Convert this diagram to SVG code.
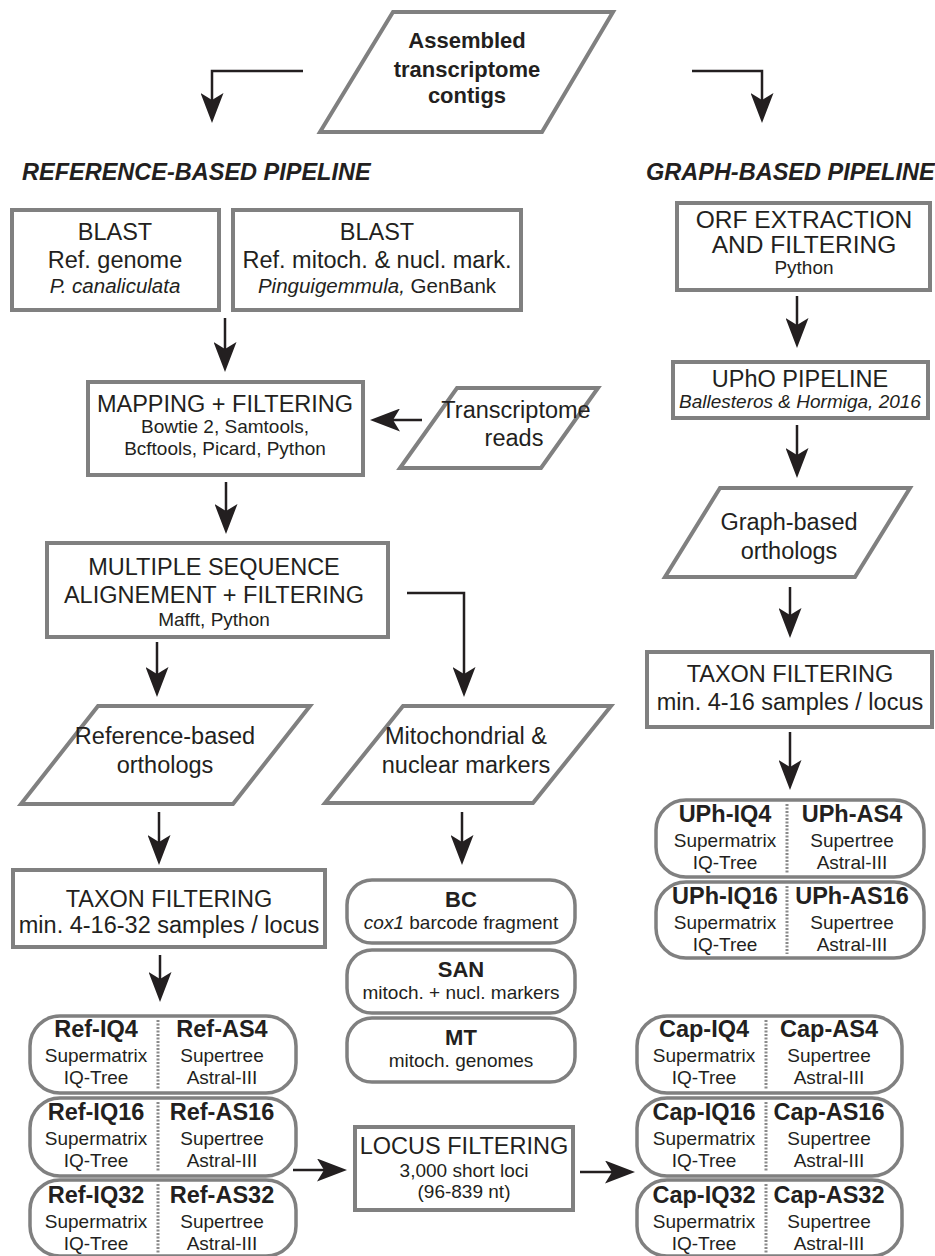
<svg xmlns="http://www.w3.org/2000/svg" width="935" height="1256" viewBox="0 0 935 1256">
<style>
.box{fill:#fff;stroke:#808080;stroke-width:4}
.rbox{fill:#fff;stroke:#808080;stroke-width:3.5}
.arrow{fill:none;stroke:#231f20;stroke-width:2.5;marker-end:url(#ah)}
.dv{stroke:#8a8a8a;stroke-width:3;stroke-dasharray:2 1.5}
text{font-family:"Liberation Sans",Arial,Helvetica,sans-serif;fill:#231f20;text-anchor:middle}
.h{font-size:23.5px}
.hl{font-size:24.5px}
.s{font-size:19px}
.m{font-size:20.5px}
.i{font-style:italic}
.b{font-weight:bold;font-size:23.5px}
.tb{font-weight:bold;font-size:22px}
.title{font-weight:bold;font-style:italic;font-size:23.5px;text-anchor:start}
</style>
<defs>
<marker id="ah" markerUnits="userSpaceOnUse" markerWidth="30" markerHeight="23" viewBox="0 0 30 23" refX="22" refY="11.5" orient="auto"><path d="M0,0 L30,11.5 L0,23 L7,11.5 Z" fill="#231f20"/></marker>
</defs>

<g id="connectors">
<path class="arrow" d="M303,71 H212 V115"/>
<path class="arrow" d="M692,71 H762 V115"/>
<path class="arrow" d="M225,318 V364"/>
<path class="arrow" d="M422,420 H378"/>
<path class="arrow" d="M226,482 V526"/>
<path class="arrow" d="M407,593 H464 V689"/>
<path class="arrow" d="M157,642 V689"/>
<path class="arrow" d="M159,812 V857"/>
<path class="arrow" d="M462,812 V857"/>
<path class="arrow" d="M160,955 V994"/>
<path class="arrow" d="M293,1170 H339"/>
<path class="arrow" d="M580,1172 H627"/>
<path class="arrow" d="M797,296 V340"/>
<path class="arrow" d="M797,425 V470"/>
<path class="arrow" d="M790,587 V630"/>
<path class="arrow" d="M790,732 V782"/>
</g>

<g id="contigs">
<polygon class="box" points="393,12 613,12 542,132 320,132"/>
<text class="tb" x="467" y="48">Assembled</text>
<text class="tb" x="467" y="77">transcriptome</text>
<text class="tb" x="467" y="103">contigs</text>
</g>

<g id="titles">
<text class="title" x="22" y="180">REFERENCE-BASED PIPELINE</text>
<text class="title" x="646" y="180">GRAPH-BASED PIPELINE</text>
</g>

<g id="blast-genome">
<rect class="box" x="12" y="210" width="207" height="100"/>
<text class="h" x="115" y="240">BLAST</text>
<text class="h" x="115" y="268">Ref. genome</text>
<text class="m i" x="115" y="293">P. canaliculata</text>
</g>

<g id="blast-markers">
<rect class="box" x="233" y="210" width="288" height="100"/>
<text class="h" x="377" y="240">BLAST</text>
<text class="h" x="377" y="268">Ref. mitoch. &amp; nucl. mark.</text>
<text class="m" x="377" y="293"><tspan class="i">Pinguigemmula,</tspan> GenBank</text>
</g>

<g id="orf">
<rect class="box" x="677" y="203" width="253" height="87"/>
<text class="hl" x="804" y="228">ORF EXTRACTION</text>
<text class="hl" x="804" y="253">AND FILTERING</text>
<text class="s" x="804" y="274">Python</text>
</g>

<g id="mapping">
<rect class="box" x="88" y="382" width="275" height="93"/>
<text class="h" x="225" y="412">MAPPING + FILTERING</text>
<text class="s" x="225" y="433">Bowtie 2, Samtools,</text>
<text class="s" x="225" y="455">Bcftools, Picard, Python</text>
</g>

<g id="reads">
<polygon class="box" points="457,388 598,388 541,468 400,468"/>
<text class="h" x="516" y="418">Transcriptome</text>
<text class="h" x="514" y="446">reads</text>
</g>

<g id="upho">
<rect class="box" x="673" y="362" width="255" height="56"/>
<text class="h" x="800" y="387">UPhO PIPELINE</text>
<text class="s i" x="800" y="408">Ballesteros &amp; Hormiga, 2016</text>
</g>

<g id="graph-orthologs">
<polygon class="box" points="720,488 910,488 855,577 665,577"/>
<text class="h" x="789" y="530">Graph-based</text>
<text class="h" x="789" y="559">orthologs</text>
</g>

<g id="msa">
<rect class="box" x="47" y="543" width="341" height="94"/>
<text class="h" x="214" y="575">MULTIPLE SEQUENCE</text>
<text class="h" x="214" y="603">ALIGNEMENT + FILTERING</text>
<text class="s" x="214" y="626">Mafft, Python</text>
</g>

<g id="taxon-graph">
<rect class="box" x="647" y="652" width="285" height="75"/>
<text class="h" x="790" y="682">TAXON FILTERING</text>
<text class="h" x="790" y="710">min. 4-16 samples / locus</text>
</g>

<g id="ref-orthologs">
<polygon class="box" points="98,706 310,706 233,804 21,804"/>
<text class="h" x="165" y="744">Reference-based</text>
<text class="h" x="165" y="773">orthologs</text>
</g>

<g id="mito-markers">
<polygon class="box" points="403,706 611,706 533,803 325,803"/>
<text class="h" x="466" y="744">Mitochondrial &amp;</text>
<text class="h" x="466" y="773">nuclear markers</text>
</g>

<g id="uph-4">
<rect class="rbox" x="656" y="800" width="268" height="77" rx="30" ry="30"/>
<line class="dv" x1="787" y1="804" x2="787" y2="873"/>
<text class="b" x="725" y="822">UPh-IQ4</text>
<text class="s" x="725" y="847">Supermatrix</text>
<text class="s" x="725" y="869">IQ-Tree</text>
<text class="b" x="852" y="822">UPh-AS4</text>
<text class="s" x="852" y="847">Supertree</text>
<text class="s" x="852" y="869">Astral-III</text>
</g>

<g id="uph-16">
<rect class="rbox" x="656" y="882" width="268" height="76" rx="30" ry="30"/>
<line class="dv" x1="787" y1="886" x2="787" y2="954"/>
<text class="b" x="725" y="904">UPh-IQ16</text>
<text class="s" x="725" y="929">Supermatrix</text>
<text class="s" x="725" y="951">IQ-Tree</text>
<text class="b" x="852" y="904">UPh-AS16</text>
<text class="s" x="852" y="929">Supertree</text>
<text class="s" x="852" y="951">Astral-III</text>
</g>

<g id="taxon-ref">
<rect class="box" x="13" y="870" width="312" height="77"/>
<text class="h" x="169" y="907">TAXON FILTERING</text>
<text class="h" x="169" y="933">min. 4-16-32 samples / locus</text>
</g>

<g id="bc">
<rect class="rbox" x="347" y="880" width="228" height="63" rx="25" ry="25"/>
<text class="tb" x="461" y="907">BC</text>
<text class="s" x="461" y="929"><tspan class="i">cox1</tspan> barcode fragment</text>
</g>

<g id="san">
<rect class="rbox" x="347" y="950" width="228" height="63" rx="25" ry="25"/>
<text class="tb" x="461" y="977">SAN</text>
<text class="s" x="461" y="999">mitoch. + nucl. markers</text>
</g>

<g id="mt">
<rect class="rbox" x="347" y="1018" width="228" height="64" rx="25" ry="25"/>
<text class="tb" x="461" y="1045">MT</text>
<text class="s" x="461" y="1067">mitoch. genomes</text>
</g>

<g id="ref-4">
<rect class="rbox" x="30" y="1016" width="266" height="77" rx="30" ry="30"/>
<line class="dv" x1="158" y1="1020" x2="158" y2="1089"/>
<text class="b" x="96" y="1037">Ref-IQ4</text>
<text class="s" x="96" y="1062">Supermatrix</text>
<text class="s" x="96" y="1084">IQ-Tree</text>
<text class="b" x="222" y="1037">Ref-AS4</text>
<text class="s" x="222" y="1062">Supertree</text>
<text class="s" x="222" y="1084">Astral-III</text>
</g>

<g id="ref-16">
<rect class="rbox" x="30" y="1098" width="266" height="78" rx="30" ry="30"/>
<line class="dv" x1="158" y1="1102" x2="158" y2="1172"/>
<text class="b" x="96" y="1120">Ref-IQ16</text>
<text class="s" x="96" y="1145">Supermatrix</text>
<text class="s" x="96" y="1167">IQ-Tree</text>
<text class="b" x="222" y="1120">Ref-AS16</text>
<text class="s" x="222" y="1145">Supertree</text>
<text class="s" x="222" y="1167">Astral-III</text>
</g>

<g id="ref-32">
<rect class="rbox" x="30" y="1180" width="266" height="76" rx="30" ry="30"/>
<line class="dv" x1="158" y1="1184" x2="158" y2="1254"/>
<text class="b" x="96" y="1203">Ref-IQ32</text>
<text class="s" x="96" y="1228">Supermatrix</text>
<text class="s" x="96" y="1250">IQ-Tree</text>
<text class="b" x="222" y="1203">Ref-AS32</text>
<text class="s" x="222" y="1228">Supertree</text>
<text class="s" x="222" y="1250">Astral-III</text>
</g>

<g id="locus">
<rect class="box" x="355" y="1127" width="218" height="83"/>
<text class="h" x="464" y="1154">LOCUS FILTERING</text>
<text class="s" x="464" y="1177">3,000 short loci</text>
<text class="s" x="464" y="1198">(96-839 nt)</text>
</g>

<g id="cap-4">
<rect class="rbox" x="637" y="1016" width="265" height="77" rx="30" ry="30"/>
<line class="dv" x1="766" y1="1020" x2="766" y2="1089"/>
<text class="b" x="704" y="1037">Cap-IQ4</text>
<text class="s" x="704" y="1062">Supermatrix</text>
<text class="s" x="704" y="1084">IQ-Tree</text>
<text class="b" x="829" y="1037">Cap-AS4</text>
<text class="s" x="829" y="1062">Supertree</text>
<text class="s" x="829" y="1084">Astral-III</text>
</g>

<g id="cap-16">
<rect class="rbox" x="637" y="1098" width="265" height="78" rx="30" ry="30"/>
<line class="dv" x1="766" y1="1102" x2="766" y2="1172"/>
<text class="b" x="704" y="1120">Cap-IQ16</text>
<text class="s" x="704" y="1145">Supermatrix</text>
<text class="s" x="704" y="1167">IQ-Tree</text>
<text class="b" x="829" y="1120">Cap-AS16</text>
<text class="s" x="829" y="1145">Supertree</text>
<text class="s" x="829" y="1167">Astral-III</text>
</g>

<g id="cap-32">
<rect class="rbox" x="637" y="1180" width="265" height="76" rx="30" ry="30"/>
<line class="dv" x1="766" y1="1184" x2="766" y2="1254"/>
<text class="b" x="704" y="1203">Cap-IQ32</text>
<text class="s" x="704" y="1228">Supermatrix</text>
<text class="s" x="704" y="1250">IQ-Tree</text>
<text class="b" x="829" y="1203">Cap-AS32</text>
<text class="s" x="829" y="1228">Supertree</text>
<text class="s" x="829" y="1250">Astral-III</text>
</g>
</svg>
